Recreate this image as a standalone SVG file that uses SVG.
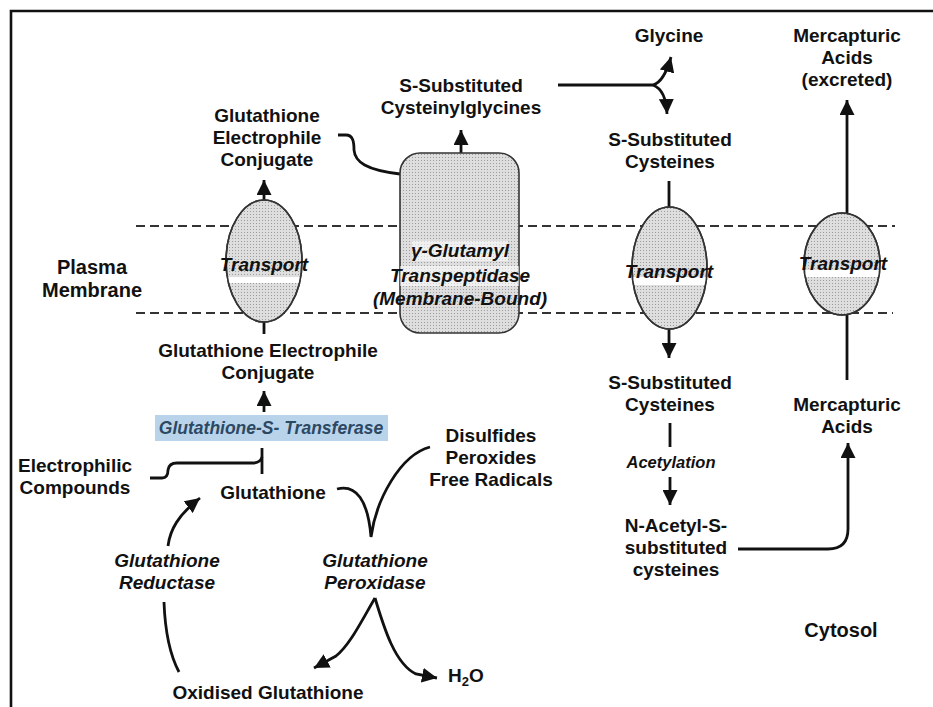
<svg xmlns="http://www.w3.org/2000/svg" width="933" height="707" viewBox="0 0 933 707">
<style>
text{font-family:"Liberation Sans",Arial,Helvetica,sans-serif;font-weight:bold;font-size:19px;fill:#111;text-anchor:middle}
.it{font-style:italic}
.big{font-size:20px}
.gst{font-size:17.5px;fill:#2c4863}
.acet{font-size:16.5px}
.ln{fill:none;stroke:#111;stroke-width:2.8;stroke-linecap:butt}
.dash{fill:none;stroke:#333;stroke-width:2;stroke-dasharray:9 5}
.cell{fill:url(#stip);stroke:#333;stroke-width:1.6}
.band{fill:#fff}
</style>
<defs>
<pattern id="stip" width="3" height="3" patternUnits="userSpaceOnUse">
<rect width="3" height="3" fill="#dedede"/>
<rect x="1" y="1" width="1" height="1" fill="#9c9c9c"/>
</pattern>
<marker id="ah" markerUnits="userSpaceOnUse" markerWidth="16" markerHeight="15" refX="15" refY="7.5" orient="auto" viewBox="0 0 16 15">
<path d="M0,0 L15,7.5 L0,15 z" fill="#111"/>
</marker>
<clipPath id="c1"><ellipse cx="264" cy="261" rx="38" ry="61"/></clipPath>
<clipPath id="c2"><ellipse cx="669.5" cy="268" rx="37.5" ry="61"/></clipPath>
<clipPath id="c3"><ellipse cx="842" cy="264" rx="38" ry="51"/></clipPath>
</defs>
<rect width="933" height="707" fill="#fff"/>
<g id="frame"><path d="M11,707 L11,11 L933,11" fill="none" stroke="#111" stroke-width="2.6"/></g>
<g id="membrane">
<path class="dash" d="M136,226 L895,226"/>
<path class="dash" d="M136,313 L893,313"/>
</g>
<g id="connectors">
<path class="ln" d="M264,200 L264,180" marker-end="url(#ah)"/>
<path class="ln" d="M264,322 L264,334"/>
<path class="ln" d="M264,412 L264,391" marker-end="url(#ah)"/>
<path class="ln" d="M338,135 L346,135 C353,135 354,142 354,150 C355,162 366,170 400,174"/>
<path class="ln" d="M461,153 L461,130" marker-end="url(#ah)"/>
<path class="ln" d="M558,85 L653,85 Q664,82 671,57" marker-end="url(#ah)"/>
<path class="ln" d="M653,85 Q666,90 667,114" marker-end="url(#ah)"/>
<path class="ln" d="M669,181 L669,207"/>
<path class="ln" d="M669,329 L669,358" marker-end="url(#ah)"/>
<path class="ln" d="M670,423 L670,447"/>
<path class="ln" d="M670,477 L670,505" marker-end="url(#ah)"/>
<path class="ln" d="M738,549 L828,549 Q848,549 848,529 L848,443" marker-end="url(#ah)"/>
<path class="ln" d="M847,380 L847,315"/>
<path class="ln" d="M847,213 L847,100" marker-end="url(#ah)"/>
<path class="ln" d="M150,478 L162,478 Q168,478 168,470 Q169,463 177,463 L254,463 Q261,462 262,457"/>
<path class="ln" d="M262,448 L262,474"/>
<path class="ln" d="M337,489 C356,484 368,500 371,537 C376,500 400,455 430,447"/>
<path class="ln" d="M168,546 C170,530 178,515 200,498" marker-end="url(#ah)"/>
<path class="ln" d="M164,602 C165,630 170,655 179,672"/>
<path class="ln" d="M375,598 C362,620 350,645 336,656 L314,668" marker-end="url(#ah)"/>
<path class="ln" d="M375,598 C384,628 395,664 416,674 L437,678" marker-end="url(#ah)"/>
</g>
<g id="transport-left">
<ellipse class="cell" cx="264" cy="261" rx="38" ry="61"/>
<rect class="band" x="220" y="277" width="90" height="6" clip-path="url(#c1)"/>
<ellipse cx="264" cy="261" rx="38" ry="61" fill="none" stroke="#333" stroke-width="1.6"/>
<text class="it" x="264" y="271">Transport</text>
</g>
<g id="ggt">
<rect class="cell" x="400" y="153" width="119" height="180" rx="20"/>
<rect x="412" y="241" width="96" height="20" fill="#fff" opacity="0.55"/>
<rect x="400" y="266" width="119" height="20" fill="#fff" opacity="0.55"/>
<text class="it" x="460" y="257">γ-Glutamyl</text>
<text class="it" x="460" y="282">Transpeptidase</text>
<text class="it" x="460" y="305">(Membrane-Bound)</text>
</g>
<g id="transport-mid">
<ellipse class="cell" cx="669.5" cy="268" rx="37.5" ry="61"/>
<rect class="band" x="625" y="277" width="90" height="8" clip-path="url(#c2)"/>
<ellipse cx="669.5" cy="268" rx="37.5" ry="61" fill="none" stroke="#333" stroke-width="1.6"/>
<text class="it" x="669" y="278">Transport</text>
</g>
<g id="transport-right">
<ellipse class="cell" cx="842" cy="264" rx="38" ry="51"/>
<rect class="band" x="800" y="270" width="90" height="7" clip-path="url(#c3)"/>
<ellipse cx="842" cy="264" rx="38" ry="51" fill="none" stroke="#333" stroke-width="1.6"/>
<text class="it" x="843" y="270">Transport</text>
</g>
<g id="gst">
<rect x="155" y="415" width="233" height="26" fill="#b9d4ea"/>
<text class="it gst" x="271" y="434">Glutathione-S- Transferase</text>
</g>
<g id="gec-out"><text x="267" y="122">Glutathione</text><text x="267" y="144">Electrophile</text><text x="267" y="166">Conjugate</text></g>
<g id="cysgly"><text x="461" y="92">S-Substituted</text><text x="461" y="114">Cysteinylglycines</text></g>
<g id="glycine"><text x="669" y="42">Glycine</text></g>
<g id="scys-out"><text x="670" y="146">S-Substituted</text><text x="670" y="168">Cysteines</text></g>
<g id="merc-out"><text x="847" y="42">Mercapturic</text><text x="847" y="64">Acids</text><text x="847" y="86">(excreted)</text></g>
<g id="plasma"><text class="big" x="92" y="274">Plasma</text><text class="big" x="92" y="297">Membrane</text></g>
<g id="gec-in"><text x="268" y="357">Glutathione Electrophile</text><text x="268" y="379">Conjugate</text></g>
<g id="electro"><text x="75" y="472">Electrophilic</text><text x="75" y="494">Compounds</text></g>
<g id="gsh"><text x="273" y="499">Glutathione</text></g>
<g id="oxidants"><text x="491" y="442">Disulfides</text><text x="491" y="464">Peroxides</text><text x="491" y="486">Free Radicals</text></g>
<g id="gr"><text class="it" x="167" y="567">Glutathione</text><text class="it" x="167" y="589">Reductase</text></g>
<g id="gpx"><text class="it" x="375" y="567">Glutathione</text><text class="it" x="375" y="589">Peroxidase</text></g>
<g id="h2o"><text x="448" y="682" style="text-anchor:start">H<tspan font-size="13" dy="4">2</tspan><tspan dy="-4">O</tspan></text></g>
<g id="gssg"><text x="268" y="699">Oxidised Glutathione</text></g>
<g id="scys-in"><text x="670" y="389">S-Substituted</text><text x="670" y="411">Cysteines</text></g>
<g id="acetylation"><text class="it acet" x="671" y="468">Acetylation</text></g>
<g id="nac"><text x="676" y="532">N-Acetyl-S-</text><text x="676" y="554">substituted</text><text x="676" y="576">cysteines</text></g>
<g id="merc-in"><text x="847" y="411">Mercapturic</text><text x="847" y="433">Acids</text></g>
<g id="cytosol"><text class="big" x="841" y="637">Cytosol</text></g>
</svg>
